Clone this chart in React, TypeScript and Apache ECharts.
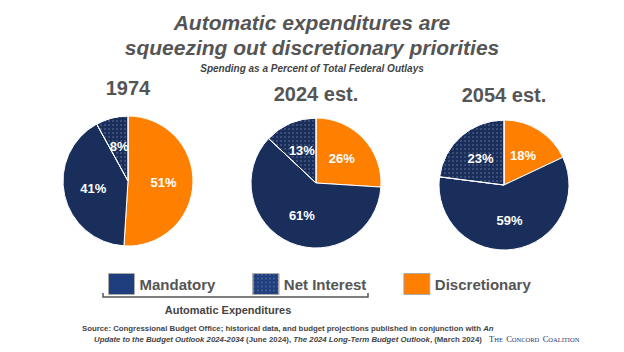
import React, { useEffect, useRef } from "react";
import * as echarts from "echarts";

const categories = ["Discretionary", "Mandatory", "Net Interest"];
const years = ["1974", "2024 est.", "2054 est."];
const share1974 = [51, 41, 8];
const share2024 = [26, 61, 13];
const share2054 = [18, 59, 23];
const allShares = [share1974, share2024, share2054];

const NAVY = "#1A2E5C";
const ORANGE = "#FF7F00";
const GREY = "#555555";
const FONT = "'Liberation Sans', Arial, Helvetica, sans-serif";

const dotDecal = {
  symbol: "circle",
  symbolSize: 0.6,
  color: "rgba(255,255,255,0.45)",
  dashArrayX: [2, 2],
  dashArrayY: [2, 2],
  rotation: 0,
};

const sliceStyle: Record<string, any> = {
  Discretionary: { color: ORANGE },
  Mandatory: { color: NAVY },
  "Net Interest": { color: NAVY, decal: dotDecal },
};

const centers = [
  [128, 181],
  [316, 183],
  [504, 185],
];
const titleY = [88, 94, 95];

export default function App() {
  const ref = useRef<HTMLDivElement>(null);
  useEffect(() => {
    if (!ref.current) return;
    const chart = echarts.init(ref.current, null, { renderer: "svg" });
    const series = allShares.map((vals, i) => ({
      type: "pie",
      name: years[i],
      center: centers[i],
      radius: 65,
      startAngle: 90,
      clockwise: true,
      silent: true,
      label: {
        show: true,
        position: "inside",
        formatter: "{c}%",
        color: "#fff",
        fontFamily: FONT,
        fontWeight: "bold",
        fontSize: 13,
      },
      labelLine: { show: false },
      itemStyle: { borderColor: "#fff", borderWidth: 1 },
      data: categories.map((c, j) => ({
        name: c,
        value: vals[j],
        itemStyle: sliceStyle[c],
      })),
    }));
    const yearTitles = years.map((y, i) => ({
      type: "text",
      x: centers[i][0],
      y: titleY[i],
      style: {
        text: y,
        fill: GREY,
        font: `bold 20px ${FONT}`,
        textAlign: "center",
        textVerticalAlign: "middle",
      },
    }));
    const srcRich = { i: { fontStyle: "italic", fontWeight: "bold", fontSize: 7.8, fontFamily: FONT, fill: "#444" } };
    chart.setOption({
      animation: false,
      backgroundColor: "#fff",
      legend: {
        left: 103,
        top: 268,
        itemWidth: 26,
        itemHeight: 21,
        itemGap: 37,
        selectedMode: false,
        icon: "rect",
        itemStyle: { borderColor: "#aaa", borderWidth: 1 },
        textStyle: { color: GREY, fontFamily: FONT, fontWeight: "bold", fontSize: 15 },
        data: [
          { name: "Mandatory", itemStyle: { color: "#1F3E7E" } },
          { name: "Net Interest", itemStyle: { color: "#1F3E7E", decal: dotDecal } },
          { name: "Discretionary" },
        ],
      },
      series,
      graphic: [
        {
          type: "text",
          x: 312,
          y: 22,
          style: {
            text: "Automatic expenditures are",
            fill: GREY,
            font: `italic bold 21px ${FONT}`,
            textAlign: "center",
            textVerticalAlign: "middle",
          },
        },
        {
          type: "text",
          x: 312,
          y: 47,
          style: {
            text: "squeezing out discretionary priorities",
            fill: GREY,
            font: `italic bold 21px ${FONT}`,
            textAlign: "center",
            textVerticalAlign: "middle",
          },
        },
        {
          type: "text",
          x: 312,
          y: 68,
          style: {
            text: "Spending as a Percent of Total Federal Outlays",
            fill: "#444",
            font: `italic bold 10px ${FONT}`,
            textAlign: "center",
            textVerticalAlign: "middle",
          },
        },
        ...yearTitles,
        {
          type: "polyline",
          shape: { points: [[103, 293], [103, 297], [368, 297], [368, 293]] },
          style: { stroke: "#555", lineWidth: 1.5, fill: null },
        },
        {
          type: "text",
          x: 228,
          y: 310,
          style: {
            text: "Automatic Expenditures",
            fill: "#444",
            font: `bold 11px ${FONT}`,
            textAlign: "center",
            textVerticalAlign: "middle",
          },
        },
        {
          type: "text",
          x: 82,
          y: 328,
          style: {
            text: "Source: Congressional Budget Office; historical data, and budget projections published in conjunction with {i|An}",
            fill: "#444",
            font: `bold 7.8px ${FONT}`,
            textVerticalAlign: "middle",
            rich: srcRich,
          },
        },
        {
          type: "text",
          x: 94,
          y: 339,
          style: {
            text: "{i|Update to the Budget Outlook 2024-2034} (June 2024), {i|The 2024 Long-Term Budget Outlook}, (March 2024)",
            fill: "#444",
            font: `bold 7.8px ${FONT}`,
            textVerticalAlign: "middle",
            rich: srcRich,
          },
        },
        {
          type: "text",
          x: 489,
          y: 339,
          style: {
            text: "{a|T}{b|HE} {a|C}{b|ONCORD} {a|C}{b|OALITION}",
            fill: "#1F3470",
            textVerticalAlign: "middle",
            rich: {
              a: { fontFamily: "'Liberation Serif', 'DejaVu Serif', serif", fontSize: 8.5, fill: "#1F3470" },
              b: { fontFamily: "'Liberation Serif', 'DejaVu Serif', serif", fontSize: 6.5, fill: "#1F3470" },
            },
          },
        },
      ],
    });
    return () => chart.dispose();
  }, []);
  return (
    <div
      ref={ref}
      style={{ position: "fixed", left: 0, top: 0, width: 624, height: 352 }}
    />
  );
}
